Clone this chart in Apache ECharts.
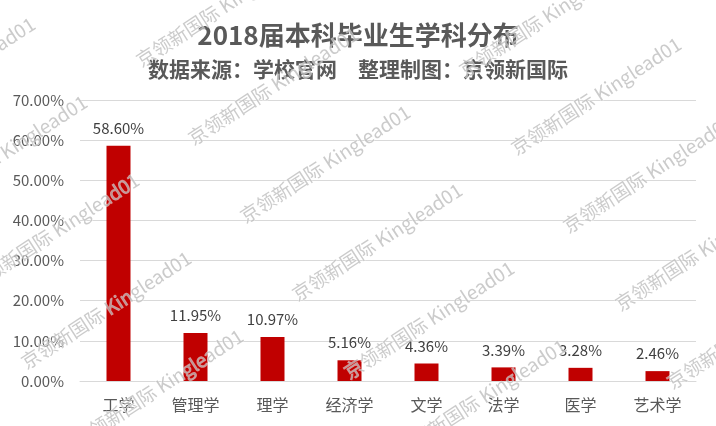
<!DOCTYPE html>
<html><head><meta charset="utf-8">
<script src="https://cdn.jsdelivr.net/npm/echarts@6/dist/echarts.min.js"></script>
<style>html,body{margin:0;padding:0;background:#fff}#c{width:716px;height:426px}</style>
</head><body><div id="c"></div>
<script>
const categories = ['工学','管理学','理学','经济学','文学','法学','医学','艺术学'];
const values = [58.60, 11.95, 10.97, 5.16, 4.36, 3.39, 3.28, 2.46];
const yTicks = [0, 10, 20, 30, 40, 50, 60, 70];
const titleText = '2018届本科毕业生学科分布';
const subtitleText = '数据来源：学校官网\u3000整理制图：京领新国际';
const watermarkText = '京领新国际 Kinglead01';

const font = '"Microsoft YaHei","Noto Sans CJK SC",sans-serif';
const chart = echarts.init(document.getElementById('c'));

// watermark tiling (decoration): lattice origins
const wm = [];
const origins = [[-180, 60], [143, 70], [466, 80]];
origins.forEach(([ox, oy]) => {
  for (let k = -2; k <= 6; k++) {
    const x = ox + 52 * k, y = oy + 78 * k;
    if (y > -10 && y < 520 && x < 716 && x > -220) wm.push([x, y]);
  }
});

chart.setOption({
  animation: false,
  title: [{
    text: titleText, left: 'center', top: 17,
    textStyle: {fontFamily: font, fontSize: 26, fontWeight: 'bold', color: '#595959'}
  }, {
    text: subtitleText, left: 'center', top: 54,
    textStyle: {fontFamily: font, fontSize: 21, fontWeight: 'bold', color: '#595959'}
  }],
  grid: {left: 80, right: 20, top: 100, bottom: 45},
  xAxis: {
    type: 'category', data: categories,
    axisLine: {lineStyle: {color: '#d9d9d9'}}, axisTick: {show: false},
    axisLabel: {fontFamily: font, fontSize: 16, color: '#595959', margin: 16}
  },
  yAxis: {
    type: 'value', min: yTicks[0], max: yTicks[yTicks.length-1], interval: 10,
    axisLine: {show: false}, axisTick: {show: false},
    splitLine: {lineStyle: {color: '#d9d9d9'}},
    axisLabel: {fontFamily: font, fontSize: 15, color: '#595959', margin: 16,
      formatter: v => v.toFixed(2) + '%'}
  },
  series: [{
    type: 'bar', data: values, barWidth: 24,
    itemStyle: {color: '#C00000'},
    label: {show: true, position: 'top', distance: 10, fontFamily: font, fontSize: 15, color: '#404040',
      formatter: p => p.value.toFixed(2) + '%'}
  }],
  graphic: wm.map(([x,y]) => ({
    type: 'text', x: x, y: y, rotation: 33 * Math.PI / 180, silent: true, z: 100,
    style: {text: watermarkText, fontFamily: font, fontSize: 19, verticalAlign: 'bottom', align: 'left',
      fill: 'rgba(185,185,185,0.75)', stroke: 'rgba(255,255,255,0.5)', lineWidth: 1}
  }))
});
</script></body></html>
